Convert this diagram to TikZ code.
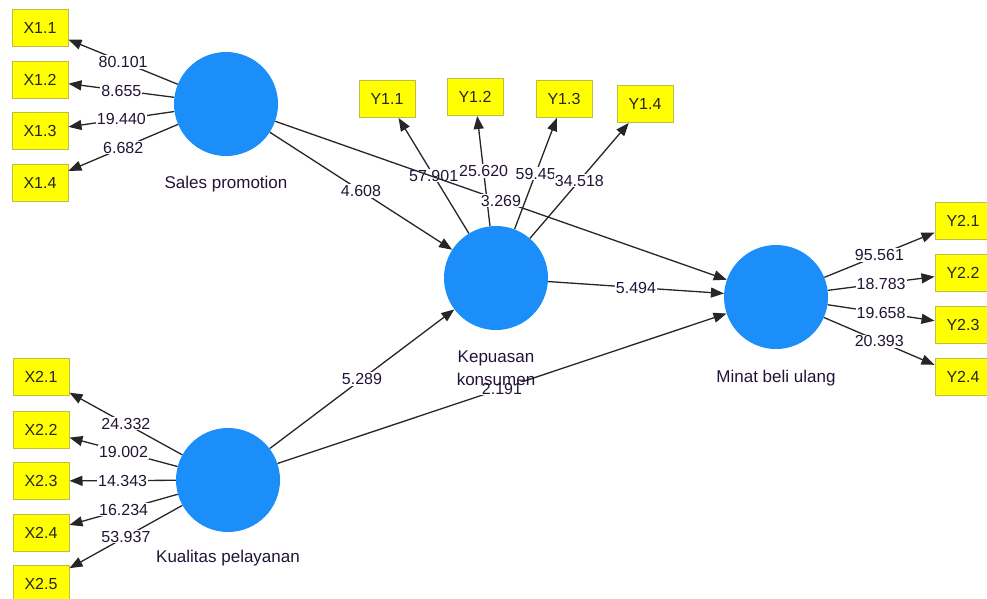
\documentclass[tikz,border=0pt]{standalone}
\usepackage{fontspec}
\setmainfont{Liberation Sans}
\usetikzlibrary{arrows.meta}

\definecolor{lvblue}{RGB}{28,142,250}
\definecolor{indyellow}{RGB}{255,255,0}
\definecolor{indborder}{RGB}{190,190,70}
\definecolor{inktext}{RGB}{35,20,55}

\tikzset{
  latent/.style={circle, fill=lvblue, minimum size=104pt, inner sep=0pt},
  lvlabel/.style={text=inktext, font=\fontsize{17}{23}\selectfont, align=center},
  indicator/.style={rectangle, fill=indyellow, draw=indborder, line width=1pt,
    minimum width=56pt, minimum height=37pt, inner sep=0pt, text=black!85,
    font=\fontsize{16}{16}\selectfont},
  coef/.style={fill=white, inner sep=1pt, text=inktext, font=\fontsize{16}{16}\selectfont},
  arr/.style={-{Triangle[length=13pt,width=10pt]}, line width=1.3pt, draw=black!85},
}

\begin{document}
\begin{tikzpicture}[x=1pt, y=-1pt]
		\clip (0,0) rectangle (987,598);
		\fill[white] (0,0) rectangle (987,598);
		% latent variables
		\node[latent] (SP) at (226,104) {};
		\node[latent] (KK) at (496,278) {};
		\node[latent] (MB) at (776,297) {};
		\node[latent] (KP) at (228,480) {};
		% indicators of Kepuasan konsumen
		\foreach \n/\x/\y/\v in {1/387/99/57.901, 2/475/97/25.620, 3/564/99/59.45, 4/645/104/34.518}
		{
			\node[indicator] (Y1\n) at (\x,\y) {Y1.\n};
			\draw[arr] (KK) -- (Y1\n) node[coef, pos=0.5] {\v};
		}
		% inner model
		\draw[arr] (SP) -- (KK) node[coef, pos=0.5] {4.608};
		\draw[arr] (SP) -- (MB) node[coef, pos=0.5] {3.269};
		\draw[arr] (KP) -- (KK) node[coef, pos=0.5] {5.289};
		\draw[arr] (KP) -- (MB) node[coef, pos=0.5] {2.191};
		\draw[arr] (KK) -- (MB) node[coef, pos=0.5] {5.494};
		% indicators of Sales promotion
		\foreach \n/\y/\v in {1/28/80.101, 2/80/8.655, 3/131/19.440, 4/183/6.682}
		{
			\node[indicator] (X1\n) at (40,\y) {X1.\n};
			\draw[arr] (SP) -- (X1\n) node[coef, pos=0.5] {\v};
		}
		% indicators of Kualitas pelayanan
		\foreach \n/\y/\v in {1/377/24.332, 2/430/19.002, 3/481/14.343, 4/533/16.234, 5/584/53.937}
		{
			\node[indicator] (X2\n) at (41,\y) {X2.\n};
			\draw[arr] (KP) -- (X2\n) node[coef, pos=0.5] {\v};
		}
		% indicators of Minat beli ulang
		\foreach \n/\y/\v in {1/221/95.561, 2/273/18.783, 3/325/19.658, 4/377/20.393}
		{
			\node[indicator] (Y2\n) at (963,\y) {Y2.\n};
			\draw[arr] (MB) -- (Y2\n) node[coef, pos=0.5] {\v};
		}
		% names of the latent variables
		\node[lvlabel] (SPname) at (226,184) {Sales promotion};
		\node[lvlabel] (KKname) at (496,368) {Kepuasan\\konsumen};
		\node[lvlabel] (MBname) at (776,378) {Minat beli ulang};
		\node[lvlabel] (KPname) at (228,558) {Kualitas pelayanan};
	\end{tikzpicture}
\end{document}
